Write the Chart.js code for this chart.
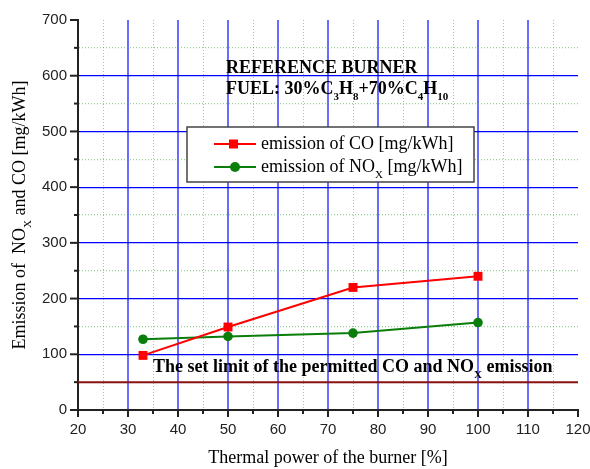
<!DOCTYPE html>
<html>
<head>
<meta charset="utf-8">
<script src="https://cdn.jsdelivr.net/npm/chart.js@4.4.0/dist/chart.umd.min.js"></script>
<style>
    html, body { margin: 0; padding: 0; background: #fff; }
</style>
</head>
<body>
<canvas id="myChart" width="590" height="469"></canvas>
<script>
const powerLevels = [33, 50, 75, 100]
const coEmission = [98, 149, 220, 240]
const noxEmission = [127, 132, 138, 157]
const limitPower = [20, 120]
const limitEmission = [50, 50]
const xTickLabels = [20, 30, 40, 50, 60, 70, 80, 90, 100, 110, 120]
const yTickLabels = [0, 100, 200, 300, 400, 500, 600, 700]

const SERIF = '"Liberation Serif", "Times New Roman", serif'
const SANS = '"Liberation Sans", Arial, sans-serif'

const toPoints = (xs, ys) => xs.map((x, i) => ({ x, y: ys[i] }))

// text with subscripts: parts = [[text, isSub], ...]
function drawRich(ctx, parts, x, y, size, weight, align) {
    const mainFont = `${weight} ${size}px ${SERIF}`
    const subFont = `${weight} ${Math.round(size * 0.6)}px ${SERIF}`
    let total = 0
    parts.forEach(([t, sub]) => {
        ctx.font = sub ? subFont : mainFont
        total += ctx.measureText(t).width
    })
    let cx = align === 'center' ? x - total / 2 : x
    ctx.textAlign = 'left'
    ctx.textBaseline = 'middle'
    parts.forEach(([t, sub]) => {
        ctx.font = sub ? subFont : mainFont
        ctx.fillText(t, cx, sub ? y + size * 0.45 : y)
        cx += ctx.measureText(t).width
    })
}

const decorPlugin = {
    id: 'decor',
    afterDatasetsDraw(chart) {
        const { ctx, chartArea, scales: { x, y } } = chart
        ctx.save()

        // outward tick marks, long for major, short for minor
        ctx.strokeStyle = '#222'
        ctx.lineWidth = 2
        x.ticks.forEach(t => {
            const px = x.getPixelForValue(t.value)
            const len = t.value % 10 === 0 ? 7 : 4
            ctx.beginPath()
            ctx.moveTo(px, chartArea.bottom)
            ctx.lineTo(px, chartArea.bottom + len)
            ctx.stroke()
        })
        y.ticks.forEach(t => {
            const py = y.getPixelForValue(t.value)
            const len = t.value % 100 === 0 ? 8 : 4
            ctx.beginPath()
            ctx.moveTo(chartArea.left, py)
            ctx.lineTo(chartArea.left - len, py)
            ctx.stroke()
        })

        ctx.fillStyle = '#000'
        // header
        drawRich(ctx, [['REFERENCE BURNER', false]], 226, 68, 18, 'bold', 'left')
        drawRich(ctx, [['FUEL: 30%C', false], ['3', true], ['H', false], ['8', true],
            ['+70%C', false], ['4', true], ['H', false], ['10', true]], 226, 89, 18, 'bold', 'left')

        // limit label
        drawRich(ctx, [['The set limit of the permitted CO and NO', false], ['X', true],
            [' emission', false]], 153, 367, 18, 'bold', 'left')

        // legend
        const lx = 187, ly = 127, lw = 287, lh = 55
        ctx.fillStyle = '#fff'
        ctx.fillRect(lx, ly, lw, lh)
        ctx.strokeStyle = '#444'
        ctx.lineWidth = 1.5
        ctx.strokeRect(lx, ly, lw, lh)
        const entries = [
            { ds: chart.data.datasets[0], y: 144, parts: [['emission of CO [mg/kWh]', false]] },
            { ds: chart.data.datasets[1], y: 167, parts: [['emission of NO', false], ['X', true], [' [mg/kWh]', false]] }
        ]
        entries.forEach(e => {
            ctx.strokeStyle = e.ds.borderColor
            ctx.fillStyle = e.ds.backgroundColor
            ctx.lineWidth = 2
            ctx.beginPath()
            ctx.moveTo(214, e.y)
            ctx.lineTo(256, e.y)
            ctx.stroke()
            if (e.ds.pointStyle === 'rect') {
                ctx.fillRect(229, e.y - 4.5, 9, 9)
            } else {
                ctx.beginPath()
                ctx.arc(235, e.y, 5, 0, Math.PI * 2)
                ctx.fill()
            }
            ctx.fillStyle = '#000'
            drawRich(ctx, e.parts, 261, e.y, 18, 'normal', 'left')
        })

        // axis titles
        ctx.fillStyle = '#000'
        drawRich(ctx, [['Thermal power of the burner [%]', false]],
            (chartArea.left + chartArea.right) / 2, 458, 18, 'normal', 'center')
        ctx.translate(20, (chartArea.top + chartArea.bottom) / 2)
        ctx.rotate(-Math.PI / 2)
        drawRich(ctx, [['Emission of  NO', false], ['X', true], [' and CO [mg/kWh]', false]],
            0, 0, 18, 'normal', 'center')
        ctx.restore()
    }
}

const majorX = c => c.tick && c.tick.value % 10 === 0
const majorY = c => c.tick && c.tick.value % 100 === 0
const isEdgeX = c => !c.tick || c.tick.value === 20 || c.tick.value === 120
const isEdgeY = c => !c.tick || c.tick.value === 0 || c.tick.value === 700

new Chart(document.getElementById('myChart'), {
    type: 'line',
    data: {
        datasets: [
            {
                label: 'emission of CO [mg/kWh]',
                data: toPoints(powerLevels, coEmission),
                borderColor: '#ff0000',
                backgroundColor: '#ff0000',
                borderWidth: 2,
                pointStyle: 'rect',
                pointRadius: 6.3,
                pointBorderWidth: 0,
                tension: 0
            },
            {
                label: 'emission of NOx [mg/kWh]',
                data: toPoints(powerLevels, noxEmission),
                borderColor: '#0a7d0a',
                backgroundColor: '#0a7d0a',
                borderWidth: 2,
                pointStyle: 'circle',
                pointRadius: 4.8,
                pointBorderWidth: 0,
                tension: 0
            },
            {
                label: 'limit',
                data: toPoints(limitPower, limitEmission),
                borderColor: '#8b1010',
                borderWidth: 2,
                pointRadius: 0,
                clip: 6
            }
        ]
    },
    options: {
        responsive: false,
        animation: false,
        devicePixelRatio: 1,
        layout: { padding: { top: 18, right: 0, left: 0, bottom: 0 } },
        plugins: {
            legend: { display: false },
            tooltip: { enabled: false }
        },
        scales: {
            x: {
                type: 'linear',
                min: 20,
                max: 120,
                afterFit: scale => {
                    scale.height = 59
                    scale.paddingRight = 12
                    scale.paddingLeft = 0
                },
                ticks: {
                    stepSize: 5,
                    autoSkip: false,
                    maxRotation: 0,
                    padding: 11,
                    color: '#222',
                    font: { family: SANS, size: 15 },
                    callback: v => xTickLabels.includes(v) ? v : ''
                },
                grid: {
                    drawTicks: false,
                    color: c => isEdgeX(c) ? 'rgba(0,0,0,0)' : (majorX(c) ? 'rgba(70,70,255,0.8)' : 'rgba(60,170,60,0.55)'),
                    lineWidth: c => majorX(c) ? 2 : 1
                },
                border: {
                    color: '#222',
                    width: 2,
                    dash: c => (c.tick && !majorX(c)) ? [1, 2] : []
                }
            },
            y: {
                min: 0,
                max: 700,
                afterFit: scale => { scale.width = 78 },
                ticks: {
                    stepSize: 50,
                    autoSkip: false,
                    padding: 11,
                    color: '#222',
                    font: { family: SANS, size: 15 },
                    callback: v => yTickLabels.includes(v) ? v : ''
                },
                grid: {
                    drawTicks: false,
                    color: c => isEdgeY(c) ? 'rgba(0,0,0,0)' : (majorY(c) ? '#0000ff' : 'rgba(60,170,60,0.55)'),
                    lineWidth: 1.2
                },
                border: {
                    color: '#222',
                    width: 2,
                    dash: c => (c.tick && !majorY(c)) ? [1, 2] : []
                }
            }
        }
    },
    plugins: [decorPlugin]
})
</script>
</body>
</html>
